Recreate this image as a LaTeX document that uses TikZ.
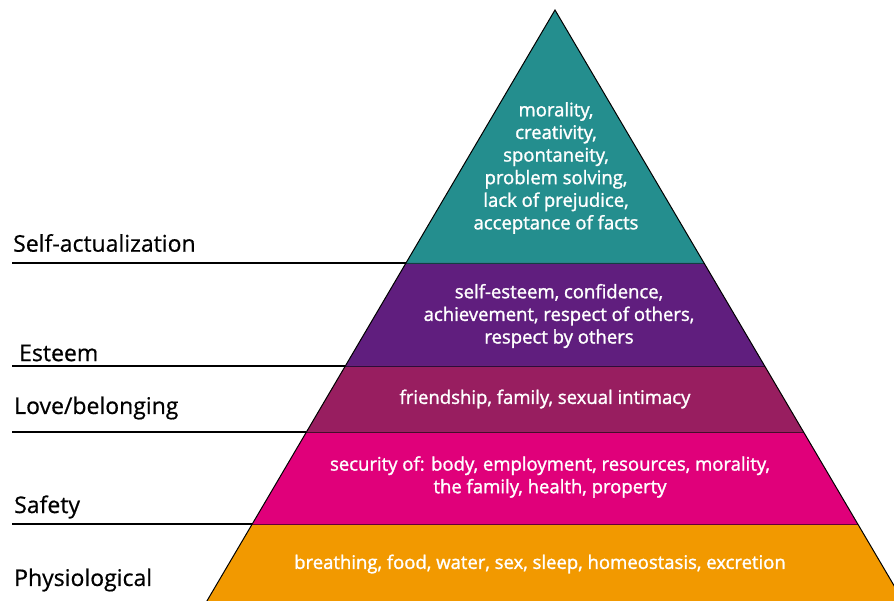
\documentclass[tikz,border=0pt]{standalone}
\usepackage{fontspec}
\setmainfont{Open Sans}
\newfontfamily\layerfont{Open Sans}[FakeBold=1.4,FakeStretch=0.99]
\newfontfamily\labelfont{Open Sans}[FakeBold=0.6]
\definecolor{cteal}{RGB}{36,142,142}
\definecolor{cpurple}{RGB}{96,30,126}
\definecolor{cmaroon}{RGB}{152,30,96}
\definecolor{cmagenta}{RGB}{224,0,122}
\definecolor{corange}{RGB}{242,153,0}
\tikzset{
  layertext/.style={text=white, align=center, font=\layerfont\fontsize{18.7}{22.6}\selectfont, inner sep=0pt},
  levellabel/.style={text=black, anchor=west, font=\labelfont\fontsize{23}{24}\selectfont, inner sep=0pt},
  levelline/.style={draw=black, line width=1.3pt},
  layer/.style={line width=0.7pt},
}
\begin{document}
\begin{tikzpicture}[x=1pt,y=-1pt]
\useasboundingbox (0,0) rectangle (894,601);
\clip (0,0) rectangle (894,601);
% pyramid corners
\coordinate (apex) at (555,10);
\coordinate (l1) at (406.0,263); \coordinate (r1) at (704.0,263);
\coordinate (l2) at (345.3,366); \coordinate (r2) at (764.7,366);
\coordinate (l3) at (306.4,432); \coordinate (r3) at (803.6,432);
\coordinate (l4) at (252.3,524); \coordinate (r4) at (857.7,524);
\coordinate (l5) at (206.9,601); \coordinate (r5) at (903.1,601);
% layers
\fill[cteal] (apex) -- (r1) -- (l1) -- cycle;
\fill[cpurple] (l1) -- (r1) -- (r2) -- (l2) -- cycle;
\fill[cmaroon] (l2) -- (r2) -- (r3) -- (l3) -- cycle;
\fill[cmagenta] (l3) -- (r3) -- (r4) -- (l4) -- cycle;
\fill[corange] (l4) -- (r4) -- (r5) -- (l5) -- cycle;
\draw[layer, draw=cteal!45!black] (l1) -- (r1);
\draw[layer, draw=cpurple!45!black] (l2) -- (r2);
\draw[layer, draw=cmaroon!45!black] (l3) -- (r3);
\draw[layer, draw=cmagenta!45!black] (l4) -- (r4);
\draw[black, line width=1pt] (l5) -- (apex) -- (r5);
% left level lines
\coordinate (s1) at (12,263);
\coordinate (s2) at (12,366);
\coordinate (s3) at (12,432);
\coordinate (s4) at (12,524);
\draw[levelline] (s1) -- (l1);
\draw[levelline] (s2) -- (l2);
\draw[levelline] (s3) -- (l3);
\draw[levelline] (s4) -- (l4);
% labels
\node[levellabel] (lab1) at (13,243) {Self-actualization};
\node[levellabel] (lab2) at (19,353) {Esteem};
\node[levellabel] (lab3) at (14,408) {Love/belonging};
\node[levellabel] (lab4) at (14,507) {Safety};
\node[levellabel] (lab5) at (14,580) {Physiological};
% layer texts
\node[layertext] (t1) at (556,168) {morality,\\creativity,\\spontaneity,\\problem solving,\\lack of prejudice,\\acceptance of facts};
\node[layertext] (t2) at (559,316) {self-esteem, confidence,\\achievement, respect of others,\\respect by others};
\node[layertext] (t3) at (545,399) {friendship, family, sexual intimacy};
\node[layertext] (t4) at (550,477) {security of: body, employment, resources, morality,\\the family, health, property};
\node[layertext] (t5) at (540,564) {breathing, food, water, sex, sleep, homeostasis, excretion};
\end{tikzpicture}
\end{document}
